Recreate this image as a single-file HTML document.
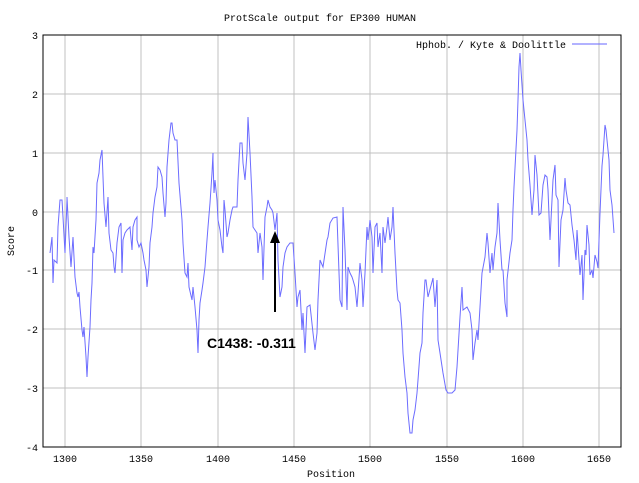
<!DOCTYPE html>
<html><head><meta charset="utf-8"><style>body{margin:0;background:#fff}svg{display:block}</style></head><body>
<svg width="639" height="483" xmlns="http://www.w3.org/2000/svg" font-family="Liberation Mono, monospace" font-size="10">
<rect width="639" height="483" fill="#fff"/>
<g stroke="#c0c0c0" stroke-width="1">
<line x1="65" y1="35" x2="65" y2="447"/><line x1="141" y1="35" x2="141" y2="447"/><line x1="218" y1="35" x2="218" y2="447"/><line x1="294" y1="35" x2="294" y2="447"/><line x1="370" y1="35" x2="370" y2="447"/><line x1="447" y1="35" x2="447" y2="447"/><line x1="523" y1="35" x2="523" y2="447"/><line x1="599" y1="35" x2="599" y2="447"/>
<line x1="43" y1="94" x2="621" y2="94"/><line x1="43" y1="153" x2="621" y2="153"/><line x1="43" y1="212" x2="621" y2="212"/><line x1="43" y1="270" x2="621" y2="270"/><line x1="43" y1="329" x2="621" y2="329"/><line x1="43" y1="388" x2="621" y2="388"/>
</g>
<rect x="43" y="35" width="578" height="412" fill="none" stroke="#000"/>
<g fill="#000" text-anchor="end">
<text x="38" y="39">3</text><text x="38" y="98">2</text><text x="38" y="157">1</text><text x="38" y="216">0</text><text x="38" y="274">-1</text><text x="38" y="333">-2</text><text x="38" y="392">-3</text><text x="38" y="451">-4</text>
</g>
<g fill="#000" text-anchor="middle">
<text x="65" y="462">1300</text><text x="141" y="462">1350</text><text x="218" y="462">1400</text><text x="294" y="462">1450</text><text x="370" y="462">1500</text><text x="447" y="462">1550</text><text x="523" y="462">1600</text><text x="599" y="462">1650</text>
<text x="320" y="21">ProtScale output for EP300 HUMAN</text>
<text x="331" y="477">Position</text>
<text x="0" y="0" transform="translate(14,241) rotate(-90)">Score</text>
</g>
<text x="566" y="48" text-anchor="end" fill="#000">Hphob. / Kyte &amp; Doolittle</text>
<line x1="572" y1="44" x2="607" y2="44" stroke="#6666ff"/>
<polyline fill="none" stroke="#6c6cff" stroke-width="1" points="50,253 52,237 53,283 54,260 57,263 58,227 60,200 62,200 63,217 65,253 67,200 67,197 69,237 71,267 73,237 74,257 75,277 77,293 78,297 79,292 80,307 82,330 83,337 84,327 86,357 87,377 88,357 90,327 91,300 92,283 93,247 94,253 96,220 97,183 99,173 100,160 102,150 103,177 104,203 106,227 108,197 109,233 111,250 113,253 114,267 115,273 117,243 119,227 121,223 122,273 123,240 125,233 127,230 130,227 132,250 133,227 135,220 137,217 137,240 139,247 141,243 143,253 144,260 146,270 147,287 149,267 150,243 152,227 153,213 155,197 157,187 158,167 160,170 162,177 163,193 165,217 166,203 167,167 169,140 171,123 172,123 173,133 175,140 177,140 179,183 182,220 183,243 185,273 187,277 188,263 189,287 192,300 193,287 195,307 197,330 198,353 199,320 200,303 202,290 203,283 205,267 207,240 208,227 210,203 212,173 213,153 213,160 214,193 215,180 217,200 218,220 220,230 222,247 223,253 224,200 225,210 227,237 228,233 230,220 232,210 233,207 237,207 238,180 240,143 242,143 243,163 245,180 247,153 248,117 250,153 252,197 253,227 257,233 258,253 260,233 262,247 263,280 265,217 267,207 268,200 270,207 272,210 273,213 275,230 277,213 278,260 280,297 282,287 283,267 285,253 287,247 290,243 293,243 295,273 297,307 298,297 300,290 302,330 303,313 305,353 307,307 310,305 313,333 315,350 317,333 318,300 320,260 323,267 327,240 328,237 330,223 333,218 337,217 340,300 342,307 343,207 345,250 347,310 348,267 350,273 352,277 353,280 355,287 357,307 358,293 360,263 362,280 363,307 365,273 367,227 368,240 370,220 372,237 373,273 375,227 377,223 378,247 380,233 382,273 383,227 385,243 387,227 388,217 390,240 392,227 393,207 395,253 397,290 398,300 400,303 402,330 403,353 405,377 407,393 408,413 410,433 412,433 413,420 415,410 417,393 418,380 420,353 422,343 423,313 425,280 426,280 428,297 433,278 435,307 437,280 438,340 440,353 443,373 446,390 448,393 452,393 455,390 457,367 460,317 462,287 463,310 467,307 470,313 472,330 473,360 475,343 477,330 478,340 480,307 482,273 485,257 487,233 488,243 490,273 492,253 493,270 495,247 497,233 498,203 500,240 502,270 503,270 505,303 507,317 507,280 510,253 512,240 513,210 514,187 517,130 518,100 519,67 520,53 521,70 523,100 527,140 528,160 530,185 532,215 534,190 535,155 537,175 539,215 541,213 543,185 545,175 547,177 548,190 550,240 552,200 553,180 555,165 556,195 558,200 559,267 561,220 563,210 565,178 566,190 568,203 570,205 572,225 574,240 576,260 577,230 579,260 580,275 582,255 583,300 585,250 586,255 587,225 589,245 590,275 592,270 593,278 595,255 597,262 598,268 600,213 602,166 603,155 605,125 606,130 607,140 609,160 610,190 612,205 614,233"/>
<line x1="275" y1="312" x2="275" y2="240" stroke="#000" stroke-width="2"/>
<polygon points="275,231 270,243 280,243" fill="#000"/>
<text x="207" y="348" font-family="Liberation Sans, sans-serif" font-weight="bold" font-size="14" fill="#000">C1438: -0.311</text>
</svg>
</body></html>
